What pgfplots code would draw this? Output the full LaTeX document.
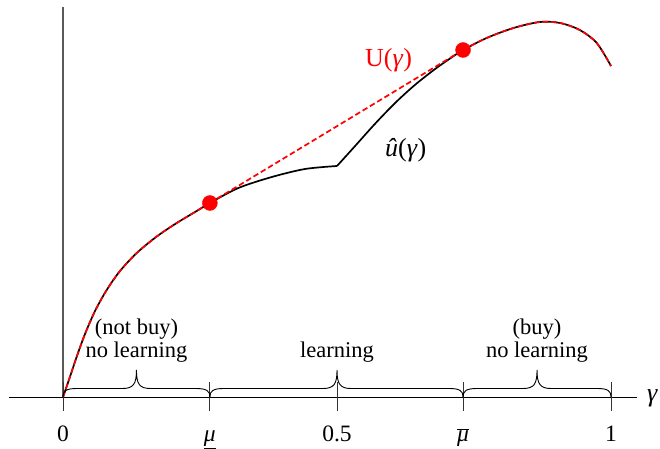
\documentclass[border=0pt]{standalone}
\usepackage{pgfplots}
\pgfplotsset{compat=1.18}
\usepackage{fontspec}
\setmainfont{Liberation Serif}
\usetikzlibrary{calc}

\DeclareRobustCommand{\uhat}{\textit{\char"00FB}}

% curly brace resting on the axis, from #1 to #2, tip at #3
\newcommand{\axbrace}[3]{%
  \draw[line width=0.9pt] (axis cs:#1,0)
    .. controls ($(axis cs:#1,0)+(0pt,6pt)$) and ($(axis cs:#1,0)+(3pt,8.5pt)$) .. ($(axis cs:#1,0)+(14pt,8.5pt)$)
    -- ($(axis cs:#3,0)+(-14pt,8.5pt)$)
    .. controls ($(axis cs:#3,0)+(-3pt,8.5pt)$) and ($(axis cs:#3,0)+(0pt,13pt)$) .. ($(axis cs:#3,0)+(0pt,27pt)$)
    .. controls ($(axis cs:#3,0)+(0pt,13pt)$) and ($(axis cs:#3,0)+(3pt,8.5pt)$) .. ($(axis cs:#3,0)+(14pt,8.5pt)$)
    -- ($(axis cs:#2,0)+(-14pt,8.5pt)$)
    .. controls ($(axis cs:#2,0)+(-3pt,8.5pt)$) and ($(axis cs:#2,0)+(0pt,6pt)$) .. (axis cs:#2,0);}
\newcommand{\axtick}[1]{\draw[black!80, line width=0.8pt] (axis cs:#1,0.145) -- (axis cs:#1,-0.145);}

\tikzset{lbl/.style={font=\fontsize{23.5}{28}\selectfont, inner sep=0pt},
         brc/.style={font=\fontsize{22.5}{26}\selectfont, inner sep=0pt},
         big/.style={font=\fontsize{26}{30}\selectfont, inner sep=0pt}}

\begin{document}
\begin{tikzpicture}
\begin{axis}[x=548pt, y=100pt,
    xmin=-0.115, xmax=1.0894, ymin=-0.48, ymax=3.97,
    hide axis, clip=false]
  \path (axis cs:-0.115,-0.48) rectangle (axis cs:1.0894,3.97);

  % axes
  \draw[gray!70!black, line width=1.5pt] (axis cs:0,0) -- (axis cs:0,3.9);
  \draw[black, line width=0.9pt] (axis cs:-0.0985,0) -- (axis cs:1.0474,0);
  \axtick{0}
  \axtick{0.268}
  \axtick{0.5}
  \axtick{0.730}
  \axtick{1}

  % u-hat
  \addplot[black, line width=1.7pt, smooth] coordinates {
    (0,0) (0.0128,0.203) (0.025,0.403) (0.0401,0.63) (0.0584,0.86) (0.0797,1.07)
    (0.104,1.26) (0.1345,1.44) (0.171,1.605) (0.2075,1.74) (0.244,1.86) (0.268,1.94)
    (0.32,2.09) (0.381,2.20) (0.4416,2.28) (0.5,2.31)};
  \addplot[black, line width=1.7pt, smooth] coordinates {
    (0.5,2.31) (0.533,2.51) (0.569,2.73) (0.606,2.94) (0.642,3.12) (0.679,3.28)
    (0.705,3.38) (0.730,3.47) (0.773,3.59) (0.822,3.69) (0.870,3.75) (0.907,3.74)
    (0.943,3.67) (0.974,3.54) (1.0,3.31)};

  % U (concave envelope)
  \addplot[red, line width=1.7pt, dash pattern=on 5.5pt off 3pt, smooth] coordinates {
    (0,0) (0.0128,0.203) (0.025,0.403) (0.0401,0.63) (0.0584,0.86) (0.0797,1.07)
    (0.104,1.26) (0.1345,1.44) (0.171,1.605) (0.2075,1.74) (0.244,1.86) (0.268,1.94)};
  \addplot[red, line width=1.7pt, dash pattern=on 5.5pt off 3pt] coordinates {
    (0.268,1.94) (0.730,3.47)};
  \addplot[red, line width=1.7pt, dash pattern=on 5.5pt off 3pt, smooth] coordinates {
    (0.730,3.47) (0.773,3.59) (0.822,3.69) (0.870,3.75) (0.907,3.74)
    (0.943,3.67) (0.974,3.54) (1.0,3.31)};

  \addplot[only marks, mark=*, mark size=7.5pt, red] coordinates {
    (0.268,1.94) (0.730,3.47)};

  % labels
  \node[anchor=base west, red, big] at (axis cs:0.551,3.30) {U(\textit{γ})};
  \node[anchor=base west, big] at (axis cs:0.5876,2.40) {\uhat(\textit{γ})};
  \node[anchor=base west, big] at (axis cs:1.0657,-0.05) {\textit{γ}};

  \node[anchor=base, lbl] at (axis cs:0,-0.445) {0};
  \node[anchor=base, lbl] at (axis cs:0.268,-0.445) {\underline{\textit{μ}}};
  \node[anchor=base, lbl] at (axis cs:0.5,-0.445) {0.5};
  \node[anchor=base, lbl] at (axis cs:0.730,-0.445) {$\overline{\hbox{\textit{μ}}}$};
  \node[anchor=base, lbl] at (axis cs:1,-0.445) {1};

  \axbrace{0}{0.268}{0.134}
  \axbrace{0.268}{0.730}{0.5}
  \axbrace{0.730}{1}{0.865}

  \node[anchor=base, brc] at (axis cs:0.134,0.62) {(not buy)};
  \node[anchor=base, brc] at (axis cs:0.134,0.395) {no learning};
  \node[anchor=base, brc] at (axis cs:0.5,0.395) {learning};
  \node[anchor=base, brc] at (axis cs:0.865,0.62) {(buy)};
  \node[anchor=base, brc] at (axis cs:0.865,0.395) {no learning};
\end{axis}
\end{tikzpicture}
\end{document}
